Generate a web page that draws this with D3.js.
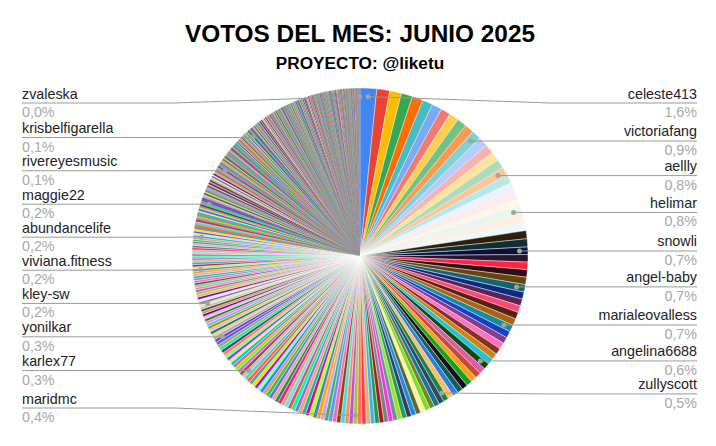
<!DOCTYPE html>
<html>
<head>
<meta charset="utf-8">
<script src="https://cdn.jsdelivr.net/npm/d3@7"></script>
<style>
  body { margin: 0; background: #fff; }
  text { font-family: "Liberation Sans", Arial, sans-serif; }
</style>
</head>
<body>
<script>
// votes per user, already sorted from most to least (one slice each)
var votes = [
  80, 62, 57, 54, 52, 50, 48, 47, 46, 46, 45,
  45, 45, 45, 44, 44, 40,
  40, 40, 40, 40, 40,
  40, 39, 39, 39, 36,
  36, 36, 36, 36, 36,
  34, 33, 33, 33, 33, 33,
  32, 31, 31, 30, 30, 30, 30,
  29, 29, 28, 28, 28, 27, 27, 27, 25,
  25, 25, 24, 24, 24, 23, 23, 23, 23, 22, 22, 22, 22, 22, 21, 21, 21, 21, 21, 20,
  20, 20, 20, 20, 20, 19, 19, 19, 19, 19, 19, 18, 18, 18, 18, 18, 18, 18,
  17, 17, 17, 17, 17, 17, 17, 17, 16, 16, 16, 16, 16, 16, 16,
  16, 16, 16, 16, 15, 15, 15, 15, 15, 15, 15, 15, 15, 15,
  14, 14, 14, 14, 13, 13, 13, 13, 13, 12, 12, 12, 12, 12,
  12, 12, 12, 12, 12, 12, 11, 11, 11, 11, 11, 11, 11, 11, 11,
  11, 11, 11, 10, 10, 10, 10, 10, 10, 10, 10, 10, 10, 10, 10, 10,
  10, 10, 10, 9, 9, 9, 9, 9, 9, 9, 9, 9, 8, 8, 8, 8, 8, 8, 8,
  8, 8, 8, 8, 8, 8, 8, 8, 8, 8,
  7, 7, 7, 7, 7, 7, 7, 7, 7, 7, 7, 7, 7, 7, 7,
  7, 7, 7, 7, 7, 7,
  6, 6, 6, 6, 6, 6, 6, 6, 6, 6, 6, 6, 6, 6,
  5, 5, 5, 5, 5, 5, 5, 5, 5, 5, 5, 5, 5, 5, 5, 5, 5, 5,
  // long tail
  5, 5, 5, 5, 5, 5, 5, 5, 5, 5,
  5, 5, 5, 5, 5, 5, 5, 5, 5, 5,
  4, 4, 4, 4, 4, 4, 4, 4, 4, 4,
  4, 4, 4, 4, 4, 4, 4, 4, 4, 4,
  4, 4, 4, 4, 4, 4, 4, 4, 4, 4,
  3, 3, 3, 3, 3, 3, 3, 3, 3, 3,
  3, 3, 3, 3, 3, 3, 3, 3, 3, 3,
  3, 3, 3, 3, 3, 3, 3, 3, 3, 3,
  3, 3, 3, 3, 3, 3, 3, 3, 3, 3,
  3, 3, 3, 3, 3, 3, 3, 3, 3, 3,
  2, 2, 2, 2, 2, 2, 2, 2, 2, 2,
  2, 2, 2, 2, 2, 2, 2, 2, 2, 2,
  2, 2, 2, 2, 2, 2, 2, 2, 2, 2,
  2, 2, 2, 2, 2, 2, 2, 2, 2, 2,
  2, 2, 2, 2, 2, 2, 2, 2, 2, 2,
  2, 2, 2, 2, 2, 2, 2, 2, 2, 2,
  2, 2, 2, 2, 2, 2, 2, 2, 2, 2,
  1, 1, 1, 1, 1, 1, 1, 1, 1, 1,
  1, 1, 1, 1, 1, 1, 1, 1, 1, 1,
  1, 1, 1, 1, 1, 1, 1, 1, 1, 1,
  1, 1, 1, 1, 1, 1, 1, 1, 1, 1,
  1, 1, 1, 1, 1, 1, 1, 1, 1, 1,
  1, 1, 1, 1, 1, 1, 1, 1, 1, 1,
  1, 1, 1, 1, 1, 1, 1, 1, 1, 1,
  1, 1
];

// users that get a label, and which slice they are
var labelNames = ["celeste413", "victoriafang", "aellly", "helimar", "snowli", "angel-baby",
  "marialeovalless", "angelina6688", "zullyscott", "maridmc", "karlex77", "yonilkar",
  "kley-sw", "viviana.fitness", "abundancelife", "maggie22", "rivereyesmusic",
  "krisbelfigarella", "zvaleska"];
var labelSlice = [0, 11, 16, 21, 26, 31, 37, 44, 53, 73, 106, 120, 134, 149, 165, 184, 209, 247, 489];

var title = "VOTOS DEL MES: JUNIO 2025";
var subtitle = "PROYECTO: @liketu";

// sheets-like palette
var mainColors = [
  "#4285f4", "#ea4335", "#fbbc04", "#34a853", "#ff6d01", "#46bdc6",
  "#7baaf7", "#f07b72", "#fcd04f", "#71c287", "#ff994d", "#7ed1d7",
  "#b3cefb", "#f7b4ae", "#fde49b", "#aedcba", "#ffc599", "#b5e8eb",
  "#ecf3fe", "#fdeceb", "#fff8e6", "#ebf6ee", "#fff0e6", "#ecf8f9",
  "#2d1e0b", "#0d3033", "#0c0f3d", "#2c1430", "#ff2443", "#2e0e10",
  "#6a430b", "#17636b", "#0a2a88", "#5c2454", "#ff4876", "#5e1d10",
  "#a8650b", "#1a8a9a", "#1342c9", "#8b3a8e", "#ff72c3", "#8a2e26",
  "#d0820f", "#22c4d4", "#0d4a12", "#e05aa5", "#c54a3c", "#ff9f1c",
  "#14a514", "#1c0a1c", "#125e5e", "#2a7ee0", "#ffbf5e", "#1d8348",
  "#2d4a5a", "#1b6f99", "#6b8e23", "#7fdd1f", "#fff3a0", "#556b2f",
  "#1e88e5", "#304060", "#1aa05a", "#a0e020", "#6a8caf", "#ff33dd",
  "#808080", "#b01818", "#14a050", "#4ab0e0", "#d4b483", "#ff3b3b",
  "#ff7060"
];
var mixColors = [
  "#9acd32", "#ba55d3", "#ff8c69", "#40e0d0", "#8b4513", "#ff69b4", "#6495ed", "#3cb371",
  "#dda0dd", "#ffa500", "#4682b4", "#adff2f", "#c71585", "#20b2aa", "#f4a460", "#9370db",
  "#00fa9a", "#cd5c5c", "#87cefa", "#bdb76b", "#ff1493", "#2e8b57", "#d2b48c", "#7b68ee",
  "#32cd32", "#e9967a", "#1e90ff", "#98fb98", "#8a2be2", "#ffd700", "#5f9ea0", "#ff6347",
  "#66cdaa", "#b0c4de", "#a0522d", "#da70d6", "#7cfc00", "#db7093", "#00ced1", "#f0e68c",
  "#6a5acd", "#90ee90", "#ff7f50", "#483d8b", "#00ff7f", "#bc8f8f", "#4169e1", "#9932cc",
  "#8fbc8f", "#ffb6c1", "#228b22", "#d8bfd8", "#b8860b", "#48d1cc", "#ee82ee", "#556b2f",
  "#add8e6", "#800080", "#f08080", "#3a5f0b", "#c0c0c0", "#ffdab9", "#708090", "#e6e6fa",
  "#8b008b", "#deb887"
];
function sliceColor(i) {
  return i < mainColors.length ? mainColors[i] : mixColors[(i - mainColors.length) % mixColors.length];
}

var W = 716, H = 446;
var cx = 360, cy = 256, R = 168;

var svg = d3.select("body").append("svg")
    .attr("width", W)
    .attr("height", H);

// titles
svg.append("text").attr("x", 360).attr("y", 42)
    .attr("text-anchor", "middle").attr("font-size", 24.4).attr("font-weight", "bold")
    .attr("fill", "#000").text(title);
svg.append("text").attr("x", 360).attr("y", 69)
    .attr("text-anchor", "middle").attr("font-size", 17.2).attr("font-weight", "bold")
    .attr("fill", "#000").text(subtitle);

var total = d3.sum(votes);
var pie = d3.pie().sort(null).value(d => d);
var arcs = pie(votes);
var arc = d3.arc().innerRadius(0).outerRadius(R);
var dotArc = d3.arc().innerRadius(R * 0.95).outerRadius(R * 0.95);

var g = svg.append("g").attr("transform", "translate(" + cx + "," + cy + ")");

// neutral disc behind the slices so the hairline seams don't show white
g.append("circle").attr("r", R - 0.5).attr("fill", "#9f9aae");

// thin white edge on the wide slices only
g.selectAll("path.slice").data(arcs).enter().append("path")
    .attr("class", "slice")
    .attr("d", arc)
    .attr("fill", (d, i) => sliceColor(i))
    .attr("stroke", d => d.value >= 10 ? "#fff" : "none")
    .attr("stroke-width", 0.45);

// label layout
var fmt = d3.format(".1f");
var labels = labelNames.map(function (name, k) {
  var a = arcs[labelSlice[k]];
  var c = dotArc.centroid(a);
  var mid = (a.startAngle + a.endAngle) / 2;
  return {
    name: name,
    pct: fmt(a.value / total * 100).replace(".", ",") + "%",
    dx: cx + c[0], dy: cy + c[1],
    right: mid < Math.PI,
    y: Math.max(103, Math.min(408, cy + c[1]))
  };
});

[true, false].forEach(function (side) {
  var list = labels.filter(d => d.right === side).sort((a, b) => a.y - b.y);
  for (var i = 1; i < list.length; i++) {
    if (list[i].y < list[i - 1].y + 33) list[i].y = list[i - 1].y + 33;
  }
});

var lg = svg.append("g");
lg.selectAll("path.lead").data(labels).enter().append("path")
    .attr("class", "lead")
    .attr("fill", "none")
    .attr("stroke", "#9a9a9a")
    .attr("stroke-width", 1)
    .attr("d", function (d) {
      var bend = d.right ? 550 : 175;
      var end = d.right ? 697 : 22;
      return "M" + d.dx + "," + d.dy + "L" + bend + "," + d.y + "L" + end + "," + d.y;
    });

lg.selectAll("circle").data(labels).enter().append("circle")
    .attr("cx", d => d.dx).attr("cy", d => d.dy).attr("r", 2.5)
    .attr("fill", "#a3a3a3");

lg.selectAll("text.name").data(labels).enter().append("text")
    .attr("class", "name")
    .attr("x", d => d.right ? 697 : 22)
    .attr("y", d => d.y - 4.5)
    .attr("text-anchor", d => d.right ? "end" : "start")
    .attr("font-size", 14.3)
    .attr("fill", "#222")
    .text(d => d.name);

lg.selectAll("text.pct").data(labels).enter().append("text")
    .attr("class", "pct")
    .attr("x", d => d.right ? 697 : 22)
    .attr("y", d => d.y + 14)
    .attr("text-anchor", d => d.right ? "end" : "start")
    .attr("font-size", 14.3)
    .attr("fill", "#a8a8a8")
    .text(d => d.pct);
</script>
</body>
</html>
